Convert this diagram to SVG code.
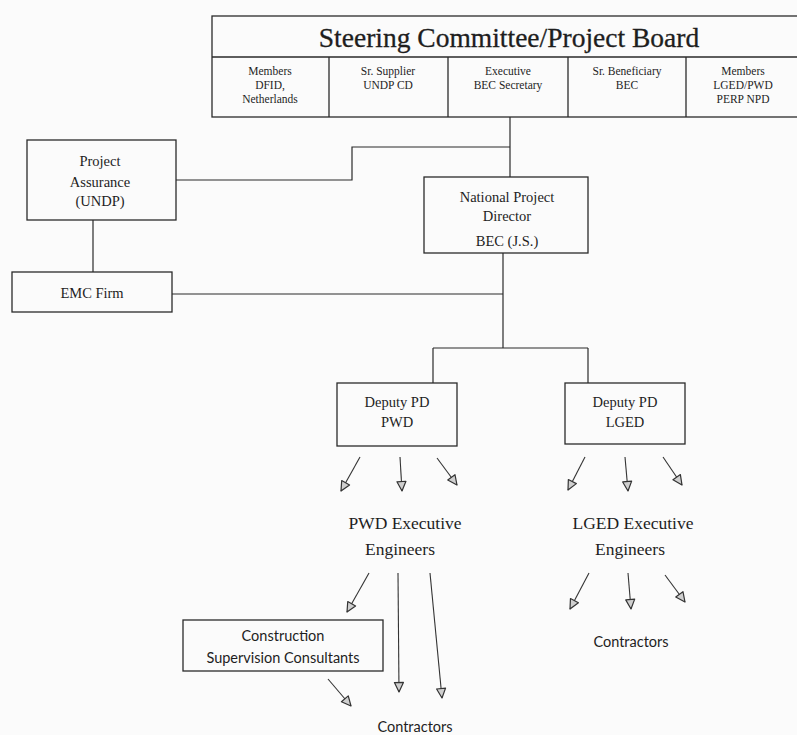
<svg xmlns="http://www.w3.org/2000/svg" width="797" height="735" viewBox="0 0 797 735">
<defs>
<style>
.box{fill:none;stroke:#2a2a2a;stroke-width:1.3}
.ln{fill:none;stroke:#2a2a2a;stroke-width:1.2}
.ar{fill:none;stroke:#333;stroke-width:1.1;marker-end:url(#ah)}
.sf{font-family:"Liberation Serif","Times New Roman",serif;fill:#1e1e1e;text-anchor:middle}
.ss{font-family:Lato,"Liberation Sans",sans-serif;fill:#1e1e1e;text-anchor:middle}
.t{font-size:27.5px;stroke:#1e1e1e;stroke-width:0.3}
.c{font-size:11.5px}
.b{font-size:14.5px}
.e{font-size:17.5px}
.k{font-size:14.5px}
</style>
<marker id="ah" viewBox="0 0 12 12" refX="11" refY="6" markerWidth="12" markerHeight="12" orient="auto" markerUnits="userSpaceOnUse">
<path d="M1.5,1.5 L11,6 L1.5,10.5 Z" fill="#cfcfcf" stroke="#333" stroke-width="1.2" stroke-linejoin="round"/>
</marker>
</defs>
<rect x="0" y="0" width="797" height="735" fill="#fbfbfb"/>

<g id="connectors">
<path class="ln" d="M510,117 V177"/>
<path class="ln" d="M176,180 H352 V147 H510"/>
<path class="ln" d="M93,220 V272"/>
<path class="ln" d="M172,294 H503"/>
<path class="ln" d="M503,253 V348"/>
<path class="ln" d="M433,348 H588"/>
<path class="ln" d="M433,348 V383"/>
<path class="ln" d="M588,348 V383"/>
<path class="ar" d="M360,457 L341,491"/>
<path class="ar" d="M400,457 L402,491"/>
<path class="ar" d="M437,458 L457,485"/>
<path class="ar" d="M585,457 L568,490"/>
<path class="ar" d="M625,457 L628,491"/>
<path class="ar" d="M663,457 L682,485"/>
<path class="ar" d="M369,573 L347,612"/>
<path class="ar" d="M398,573 L399,692"/>
<path class="ar" d="M430,573 L442,698"/>
<path class="ar" d="M328,679 L351,706"/>
<path class="ar" d="M589,573 L570,609"/>
<path class="ar" d="M628,573 L631,609"/>
<path class="ar" d="M665,575 L685,602"/>
</g>

<g id="steering">
<rect class="box" x="212" y="16" width="600" height="101"/>
<line class="box" x1="212" y1="57" x2="812" y2="57"/>
<line class="box" x1="329" y1="57" x2="329" y2="117"/>
<line class="box" x1="448" y1="57" x2="448" y2="117"/>
<line class="box" x1="568" y1="57" x2="568" y2="117"/>
<line class="box" x1="686" y1="57" x2="686" y2="117"/>
<text class="sf t" x="509" y="47">Steering Committee/Project Board</text>
<text class="sf c" x="270" y="75">Members</text>
<text class="sf c" x="270" y="89">DFID,</text>
<text class="sf c" x="270" y="103">Netherlands</text>
<text class="sf c" x="388" y="75">Sr. Supplier</text>
<text class="sf c" x="388" y="89">UNDP CD</text>
<text class="sf c" x="508" y="75">Executive</text>
<text class="sf c" x="508" y="89">BEC Secretary</text>
<text class="sf c" x="627" y="75">Sr. Beneficiary</text>
<text class="sf c" x="627" y="89">BEC</text>
<text class="sf c" x="743" y="75">Members</text>
<text class="sf c" x="743" y="89">LGED/PWD</text>
<text class="sf c" x="743" y="103">PERP NPD</text>
</g>

<g id="project-assurance">
<rect class="box" x="27" y="140" width="149" height="80"/>
<text class="sf b" x="100" y="166">Project</text>
<text class="sf b" x="100" y="187">Assurance</text>
<text class="sf b" x="100" y="206">(UNDP)</text>
</g>

<g id="emc-firm">
<rect class="box" x="12" y="272" width="160" height="40"/>
<text class="sf b" x="92" y="298">EMC Firm</text>
</g>

<g id="npd">
<rect class="box" x="424" y="177" width="164" height="76"/>
<text class="sf b" x="507" y="202">National Project</text>
<text class="sf b" x="507" y="221">Director</text>
<text class="sf b" x="507" y="246">BEC (J.S.)</text>
</g>

<g id="deputy-pwd">
<rect class="box" x="337" y="383" width="120" height="63"/>
<text class="sf b" x="397" y="407">Deputy PD</text>
<text class="sf b" x="397" y="427">PWD</text>
</g>

<g id="deputy-lged">
<rect class="box" x="565" y="383" width="120" height="61"/>
<text class="sf b" x="625" y="407">Deputy PD</text>
<text class="sf b" x="625" y="427">LGED</text>
</g>

<g id="pwd-engineers">
<text class="sf e" x="405" y="529">PWD Executive</text>
<text class="sf e" x="400" y="555">Engineers</text>
</g>

<g id="lged-engineers">
<text class="sf e" x="633" y="529">LGED Executive</text>
<text class="sf e" x="630" y="555">Engineers</text>
</g>

<g id="csc">
<rect class="box" x="183" y="620" width="200" height="51"/>
<text class="ss k" x="283" y="641">Construction</text>
<text class="ss k" x="283" y="663">Supervision Consultants</text>
</g>

<g id="contractors-lged">
<text class="ss k" x="631" y="647">Contractors</text>
</g>

<g id="contractors-pwd">
<text class="ss k" x="415" y="732">Contractors</text>
</g>
</svg>
